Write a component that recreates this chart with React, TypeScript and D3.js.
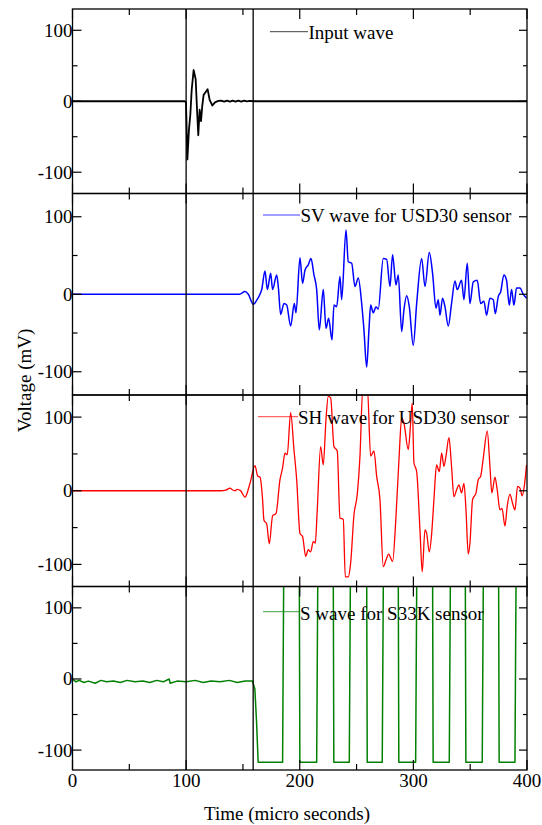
import React from "react";
import * as d3 from "d3";

const W = 542;
const H = 825;

// ---- axis / tick data ----
const xTicks = [0, 100, 200, 300, 400];
const xMinorTicks = [50, 150, 250, 350];
const yTicks = [-100, 0, 100];
const yMinorTicks = [-50, 50];
const markerTimes = [100, 159];

const seriesNames = [
  "Input wave",
  "SV wave for USD30 sensor",
  "SH wave for USD30 sensor",
  "S wave for S33K sensor",
];
const seriesColors = ["#000000", "#0000ff", "#ff0000", "#008000"];

// ---- series data: [time (µs), voltage (mV)] ----
const inputWave: [number, number][] = [
  [0, 0], [99, 0], [99.9, -2], [101.1, -82], [102.5, -40], [103.7, -19], [104.9, 16],
  [106.6, 44], [108.4, 31], [109.6, -12], [110.7, -48], [111.9, -12], [113.1, -28],
  [114.3, -5], [115.4, 9], [117.2, 13], [118.9, 17], [120.7, 2], [123.1, -6], [125.4, -1.5],
  [128.3, 0.5], [131, 1], [133.5, -0.5], [136, 1], [138.5, -0.5], [141, 1], [143.5, -0.5], [146, 0.8],
  [148.5, -0.5], [151, 0.8], [153.5, -0.3], [156, 0.5], [160, 0], [400, 0],
];

const svWave: [number, number][] = [
  [0, 0], [147, 0], [151.8, 3.4], [154.7, 0], [159.1, -13], [162, -8], [165, 0], [166.5, 6],
  [169.4, 30], [171.5, 6], [174.4, 27], [176.1, 6], [179.7, 25], [181.1, 10], [183.2, -26],
  [186.1, -12], [188.5, -14], [192, -41], [195.2, -12], [196.7, -24], [200.2, 47], [202.5, 14],
  [204.6, 31], [207.5, 38], [209.9, 46], [212.5, 25], [214.9, 6], [217.2, -46], [220.7, 6],
  [223.1, -44], [225.4, -31], [228.4, -59], [230.1, -14], [232.5, -16], [235.4, 23], [236.9, -7],
  [240.7, 83], [242.7, 42], [245.7, 40], [248.6, 10], [251.5, 21], [254.5, -12], [256.5, -46],
  [258.9, -94], [260.9, -46], [262.4, -14], [264.7, -24], [267.1, -16], [269.1, -19], [273.5, 46],
  [276.5, 45], [279.4, 10], [281.7, 51], [284.7, 12], [286.7, 25], [289.7, -48], [291.7, -20],
  [294.1, -2], [296.4, -16], [299.9, -66], [302.9, -12], [307.3, 46], [310.2, 10], [314, 54],
  [316.9, 27], [319.9, -18], [321.9, -7], [323.4, -27], [325.7, -5], [327.8, -16], [330.7, -41],
  [333.6, -12], [336.6, 17], [338.6, 6], [342.4, 18], [344.5, -7], [347.4, 40], [349.8, -12],
  [352.7, 16], [356.2, 18], [359.2, -12], [362.1, -9], [364.4, -27], [367.4, -5], [370.3, -7],
  [372.1, -25], [374.7, -3], [376.8, 3], [379.7, 25], [382, 18], [384.4, -14], [386.4, 6],
  [388.5, -14], [390.8, 8], [393.8, 8], [396.7, 0], [399.6, -5],
];

const shWave: [number, number][] = [
  [0, 0], [130, 0], [135, 1], [138.6, 3.6], [141, 1], [143, 0], [145, 2], [148, 0],
  [151.8, -8.6], [156.2, 10], [160.6, 34], [163, 20], [165, 18.6], [167.3, -12], [168.5, -40],
  [170.9, -45], [173.2, -72], [176.1, -34], [179.1, -31], [182.6, 15], [184.9, 31], [187, 51],
  [189, 49], [192, 106], [194.9, 56], [197.3, 15], [200.2, -58], [202.5, -62], [205.2, -89],
  [207.5, -80], [209.6, -83], [211.9, -69], [213.7, -71], [215.4, -26], [218.4, 60], [220.7, 35],
  [223.1, 97], [225.1, 128], [227.2, 126], [230.1, 60], [233, 54], [235.4, -37], [238.3, -39],
  [240.1, -117], [242.7, -117], [244.8, -98], [247.7, -33], [250.6, -5], [253, 47], [255.5, 140],
  [259.5, 140], [262.4, 47], [265.3, 54], [267.7, 19.5], [270.6, -12], [273.5, -103], [275.9, -94],
  [278.2, -86], [281.7, -96], [284.7, -35], [287.6, 51], [289.7, 99], [291.7, 92], [295.5, 56],
  [297.6, 92], [299, 119], [300.5, 38], [302.9, 26], [305.8, -53], [307.8, -110], [310.2, -53],
  [311.7, -58], [314, -83], [316, -60], [318.1, -12], [320.4, 35], [322.8, 26], [324.9, 51],
  [326.9, 33], [328.7, 47], [331.3, 72], [333.6, 33], [335.7, -8], [338, 1], [340.1, 8],
  [342.4, -3], [344.5, 10], [346.3, -26], [348.3, -86], [349.8, -71], [352.1, -12], [355.1, -3],
  [357.1, 15], [359.2, 19.5], [361.5, 44], [365, 81], [367.4, 33], [369.1, -3], [371.8, 18.6],
  [373.8, 1], [376.2, -26], [378, -24], [380.6, -48], [382.6, -21], [385, -5], [387.3, -17],
  [389.4, -26], [391.7, 6], [393.8, 3.6], [395.8, -7], [397.6, 6], [399.6, 35],
];

const sBaseline: [number, number][] = [
  [0, 0], [3, -4], [6, -2], [10, -5], [14, -3], [20, -6], [25, -2], [30, -4], [36, -3],
  [42, -5], [48, -2], [55, -4], [62, -3], [68, -5], [74, -2], [80, -4], [85, 0], [86, -6],
  [92, -3], [100, -4], [108, -2], [115, -5], [122, -3], [130, -4], [138, -2], [145, -5],
  [152, -3], [158.3, -3],
];
const sDrop: [number, number][] = [[160.5, -14], [162, -61], [163.4, -117]];
const sLowLevel = -117;
const sHighLevel = 150;
const sRiseTimes = [184.9, 214.9, 243.6, 272.6, 302, 331.6, 360.6, 389.4];
const sFallTimes = [199.6, 229.5, 258.9, 286.7, 316.9, 345.7, 375];

function buildSquare(): [number, number][] {
  const pts: [number, number][] = [...sBaseline, ...sDrop];
  sRiseTimes.forEach((r, i) => {
    pts.push([r, sLowLevel]);
    pts.push([r + 1, sHighLevel]);
    const f = sFallTimes[i];
    if (f !== undefined) {
      pts.push([f, sHighLevel]);
      pts.push([f + 0.5, sLowLevel]);
    }
  });
  pts.push([400, sHighLevel]);
  return pts;
}
const sWave = buildSquare();

const seriesData = [inputWave, svWave, shWave, sWave];

// ---- layout ----
const LEFT = 72.5;
const RIGHT = 527;
const panels = [
  { top: 9, bottom: 193.5, domain: [-130, 130], legY: 31.7, legX1: 270, legX2: 308, textX: 308.5, textY: 38.5, sw: 1.8, smooth: false },
  { top: 193.5, bottom: 395, domain: [-130, 130], legY: 215, legX1: 263, legX2: 300, textX: 300.5, textY: 222, sw: 1.5, smooth: true },
  { top: 395, bottom: 586.5, domain: [-130, 130], legY: 416.7, legX1: 258, legX2: 298, textX: 298, textY: 423.5, sw: 1.3, smooth: true },
  { top: 586.5, bottom: 770, domain: [-128, 130], legY: 611.7, legX1: 263, legX2: 300, textX: 300, textY: 619.5, sw: 1.5, smooth: false },
];

const FONT = "Liberation Serif, Times New Roman, serif";
const textStyle: React.CSSProperties = { fontFamily: FONT, fontSize: "19px" };

export default function App() {
  const x = d3.scaleLinear().domain([0, 400]).range([LEFT, RIGHT]);

  return (
    <svg
      width={W}
      height={H}
      viewBox={`0 0 ${W} ${H}`}
      style={{ position: "absolute", left: 0, top: 0, background: "#fff", fontFamily: FONT }}
    >
      <defs>
        {panels.map((p, i) => (
          <clipPath id={`clip${i}`} key={i}>
            <rect x={LEFT} y={p.top} width={RIGHT - LEFT} height={p.bottom - p.top} />
          </clipPath>
        ))}
      </defs>
      {panels.map((p, i) => {
        const y = d3.scaleLinear().domain(p.domain).range([p.bottom, p.top]);
        const line = d3
          .line<[number, number]>()
          .x((d) => x(d[0]))
          .y((d) => y(d[1]))
          .curve(p.smooth ? d3.curveMonotoneX : d3.curveLinear);
        return (
          <g key={i}>
            <path
              d={line(seriesData[i]) || ""}
              fill="none"
              stroke={seriesColors[i]}
              strokeWidth={p.sw}
              strokeLinejoin="round"
              clipPath={`url(#clip${i})`}
            />
            <rect
              x={LEFT}
              y={p.top}
              width={RIGHT - LEFT}
              height={p.bottom - p.top}
              fill="none"
              stroke="#000"
              strokeWidth={1.3}
            />
            {yTicks.map((v) => (
              <g key={`yt${v}`}>
                <line x1={LEFT} x2={LEFT + 9} y1={y(v)} y2={y(v)} stroke="#000" strokeWidth={1.2} />
                <line x1={RIGHT - 8} x2={RIGHT} y1={y(v)} y2={y(v)} stroke="#000" strokeWidth={1.2} />
                <text x={LEFT} y={y(v) + 6.5} textAnchor="end" style={textStyle} fill="#000">
                  {v}
                </text>
              </g>
            ))}
            {yMinorTicks.map((v) => (
              <g key={`ym${v}`}>
                <line x1={LEFT} x2={LEFT + 5} y1={y(v)} y2={y(v)} stroke="#000" strokeWidth={1.2} />
                <line x1={RIGHT - 4} x2={RIGHT} y1={y(v)} y2={y(v)} stroke="#000" strokeWidth={1.2} />
              </g>
            ))}
            {xTicks.map((t) => (
              <g key={`xt${t}`}>
                <line x1={x(t)} x2={x(t)} y1={p.top} y2={p.top + 10} stroke="#000" strokeWidth={1.2} />
                <line x1={x(t)} x2={x(t)} y1={p.bottom - 10} y2={p.bottom} stroke="#000" strokeWidth={1.2} />
              </g>
            ))}
            {xMinorTicks.map((t) => (
              <g key={`xm${t}`}>
                <line x1={x(t)} x2={x(t)} y1={p.top} y2={p.top + 6} stroke="#000" strokeWidth={1.2} />
                <line x1={x(t)} x2={x(t)} y1={p.bottom - 6} y2={p.bottom} stroke="#000" strokeWidth={1.2} />
              </g>
            ))}
            <line x1={p.legX1} x2={p.legX2} y1={p.legY} y2={p.legY} stroke={seriesColors[i]} strokeWidth={1} opacity={0.75} />
            <text x={p.textX} y={p.textY} style={textStyle} fill="#000">
              {seriesNames[i]}
            </text>
          </g>
        );
      })}
      {markerTimes.map((t) => (
        <line
          key={`mk${t}`}
          x1={x(t)}
          x2={x(t)}
          y1={panels[0].top}
          y2={panels[panels.length - 1].bottom}
          stroke="#000"
          strokeWidth={1.3}
        />
      ))}
      {xTicks.map((t) => (
        <text key={`xl${t}`} x={x(t)} y={786.5} textAnchor="middle" style={textStyle} fill="#000">
          {t}
        </text>
      ))}
      <text x={287} y={819.5} textAnchor="middle" style={textStyle} fill="#000">
        Time (micro seconds)
      </text>
      <text
        transform={`translate(31,380.5) rotate(-90)`}
        textAnchor="middle"
        style={textStyle}
        fill="#000"
      >
        Voltage (mV)
      </text>
    </svg>
  );
}
